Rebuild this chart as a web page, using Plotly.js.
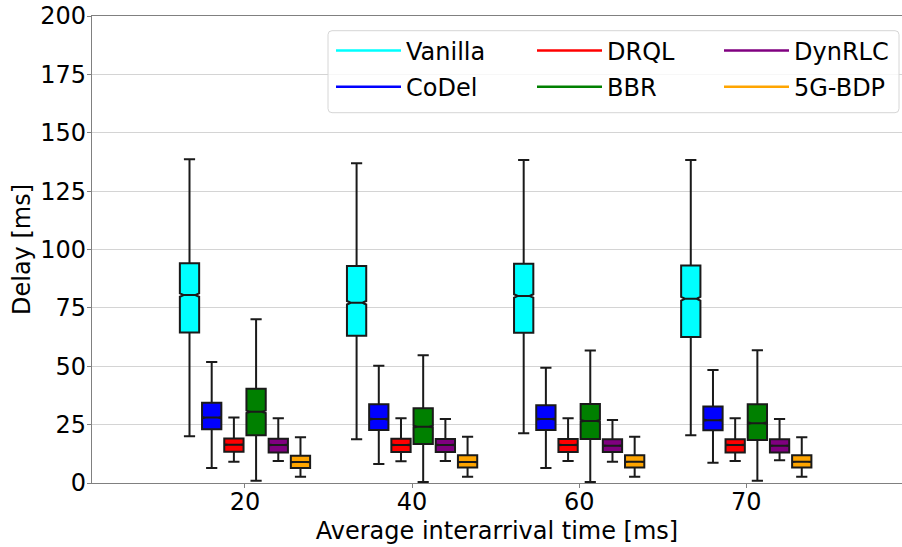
<!DOCTYPE html>
<html>
<head>
<meta charset="utf-8">
<script src="https://cdn.plot.ly/plotly-3.0.1.min.js"></script>
<style>html,body{margin:0;padding:0;background:#fff;}#chart{width:902px;height:547px;}</style>
</head>
<body>
<div id="chart"></div>
<script>
// ---- data ----
const categories = ['20', '40', '60', '70'];
const seriesNames = ['Vanilla', 'CoDel', 'DRQL', 'BBR', 'DynRLC', '5G-BDP'];
const seriesColors = ['#00ffff', '#0000ff', '#ff0000', '#008000', '#800080', '#ffa500'];

const vanillaUpper = [138.6, 136.9, 138.3, 138.3];
const vanillaQ3    = [94.1, 92.9, 93.9, 93.1];
const vanillaMed   = [80.5, 77.2, 80.1, 78.9];
const vanillaQ1    = [64.5, 63.1, 64.4, 62.5];
const vanillaLower = [20.0, 18.7, 21.3, 20.4];

const codelUpper = [51.8, 50.2, 49.4, 48.4];
const codelQ3    = [34.4, 33.7, 33.3, 32.8];
const codelMed   = [28.0, 27.4, 27.4, 26.9];
const codelQ1    = [23.0, 22.7, 22.7, 22.6];
const codelLower = [6.4, 8.1, 6.4, 8.7];

const drqlUpper = [28.0, 27.7, 27.7, 27.7];
const drqlQ3    = [19.1, 19.0, 18.8, 18.7];
const drqlMed   = [16.4, 16.3, 16.3, 16.3];
const drqlQ1    = [13.4, 13.3, 13.3, 13.1];
const drqlLower = [9.1, 9.3, 9.4, 9.4];

const bbrUpper = [70.1, 54.7, 56.7, 56.8];
const bbrQ3    = [40.4, 32.0, 33.8, 33.7];
const bbrMed   = [30.5, 24.1, 26.6, 25.6];
const bbrQ1    = [20.4, 16.7, 18.8, 18.4];
const bbrLower = [1.0, 0.4, 0.4, 1.0];

const dynrlcUpper = [27.7, 27.4, 27.0, 27.4];
const dynrlcQ3    = [19.0, 18.8, 18.7, 18.7];
const dynrlcMed   = [16.3, 16.3, 16.0, 16.0];
const dynrlcQ1    = [13.1, 13.3, 13.3, 13.1];
const dynrlcLower = [9.4, 9.4, 9.1, 9.7];

const bdpUpper = [19.6, 19.8, 19.8, 19.6];
const bdpQ3    = [11.7, 11.9, 11.9, 11.9];
const bdpMed   = [9.0, 9.0, 9.1, 9.1];
const bdpQ1    = [6.4, 6.6, 6.6, 6.6];
const bdpLower = [2.7, 2.7, 2.7, 2.7];

const seriesStats = [
  [vanillaLower, vanillaQ1, vanillaMed, vanillaQ3, vanillaUpper],
  [codelLower, codelQ1, codelMed, codelQ3, codelUpper],
  [drqlLower, drqlQ1, drqlMed, drqlQ3, drqlUpper],
  [bbrLower, bbrQ1, bbrMed, bbrQ3, bbrUpper],
  [dynrlcLower, dynrlcQ1, dynrlcMed, dynrlcQ3, dynrlcUpper],
  [bdpLower, bdpQ1, bdpMed, bdpQ3, bdpUpper]
];

const xTitle = 'Average interarrival time [ms]';
const yTitle = 'Delay [ms]';

// ---- traces ----
const FONT = 'DejaVu Sans, Bitstream Vera Sans, sans-serif';
const traces = [];
seriesNames.forEach((name, i) => {
  const [lo, q1, med, q3, hi] = seriesStats[i];
  traces.push({
    type: 'box',
    name: name,
    x: categories,
    lowerfence: lo, q1: q1, median: med, q3: q3, upperfence: hi,
    notched: true,
    notchwidth: 0.2,
    notchspan: q3.map((v, k) => (v - q1[k]) * 0.025),
    boxpoints: false,
    fillcolor: seriesColors[i],
    line: {color: '#1a1a1a', width: 2},
    whiskerwidth: 0.58,
    showlegend: false,
    hoverinfo: 'skip'
  });
});

// legend entries drawn as lines (column-major as in the reference: 3 columns, 2 rows)
const legendOf = ['legend', 'legend', 'legend2', 'legend2', 'legend3', 'legend3'];
seriesNames.forEach((name, i) => {
  traces.push({
    type: 'scatter', mode: 'lines',
    x: [null], y: [null],
    name: name,
    legend: legendOf[i],
    legendgroup: 'g' + i,
    line: {color: seriesColors[i], width: 2.5},
    showlegend: true,
    hoverinfo: 'skip'
  });
});

// ---- layout ----
const L = 92, R = 902, T = 16, B = 483;
const PW = R - L, PH = B - T;
const px = v => (v - L) / PW;
const py = v => (B - v) / PH;

function legendCfg(leftPx) {
  return {
    x: px(leftPx), xanchor: 'left', xref: 'paper',
    y: py(28.5), yanchor: 'top', yref: 'paper',
    bgcolor: 'rgba(0,0,0,0)', borderwidth: 0,
    itemwidth: 65, tracegroupgap: 2, traceorder: 'grouped',
    orientation: 'v',
    font: {family: FONT, size: 24, color: '#000'}
  };
}

// rounded legend frame
const fx0 = px(328), fx1 = px(899), fy0 = py(112.7), fy1 = py(30.7);
const rx = 4 / PW, ry = 4 / PH;
const framePath =
  `M ${fx0 + rx} ${fy1} L ${fx1 - rx} ${fy1} Q ${fx1} ${fy1} ${fx1} ${fy1 - ry} ` +
  `L ${fx1} ${fy0 + ry} Q ${fx1} ${fy0} ${fx1 - rx} ${fy0} ` +
  `L ${fx0 + rx} ${fy0} Q ${fx0} ${fy0} ${fx0} ${fy0 + ry} ` +
  `L ${fx0} ${fy1 - ry} Q ${fx0} ${fy1} ${fx0 + rx} ${fy1} Z`;

const layout = {
  width: 902, height: 547,
  margin: {l: L, r: 902 - R, t: T, b: 547 - B, pad: 0},
  paper_bgcolor: '#ffffff', plot_bgcolor: '#ffffff',
  font: {family: FONT, size: 24, color: '#000'},
  boxmode: 'group', boxgap: 0.203, boxgroupgap: 0.131,
  xaxis: {
    type: 'category', categoryorder: 'array', categoryarray: categories,
    range: [-0.9156, 3.932],
    showgrid: false, zeroline: false,
    showline: true, linecolor: '#808080', linewidth: 1.2, mirror: true,
    ticks: 'outside', ticklen: 4, tickcolor: '#808080', tickwidth: 1,
    ticklabelstandoff: -7,
    tickfont: {family: FONT, size: 24, color: '#000'},
    title: {text: xTitle, font: {family: FONT, size: 24, color: '#000'}, standoff: 7}
  },
  yaxis: {
    range: [0, 200], tick0: 0, dtick: 25,
    showgrid: true, gridcolor: '#d4d4d4', gridwidth: 1,
    zeroline: false,
    showline: true, linecolor: '#808080', linewidth: 1.2,
    ticks: 'outside', ticklen: 4, tickcolor: '#808080', tickwidth: 1,
    ticklabelstandoff: -4,
    tickfont: {family: FONT, size: 24, color: '#000'},
    title: {text: yTitle, font: {family: FONT, size: 24, color: '#000'}, standoff: 2}
  },
  legend: legendCfg(331),
  legend2: legendCfg(532),
  legend3: legendCfg(719),
  shapes: [{
    type: 'path', xref: 'paper', yref: 'paper', layer: 'above',
    path: framePath,
    fillcolor: 'rgba(255,255,255,0.8)',
    line: {color: '#d6d6d6', width: 1}
  }]
};

Plotly.newPlot('chart', traces, layout, {displayModeBar: false, staticPlot: true});
</script>
</body>
</html>
